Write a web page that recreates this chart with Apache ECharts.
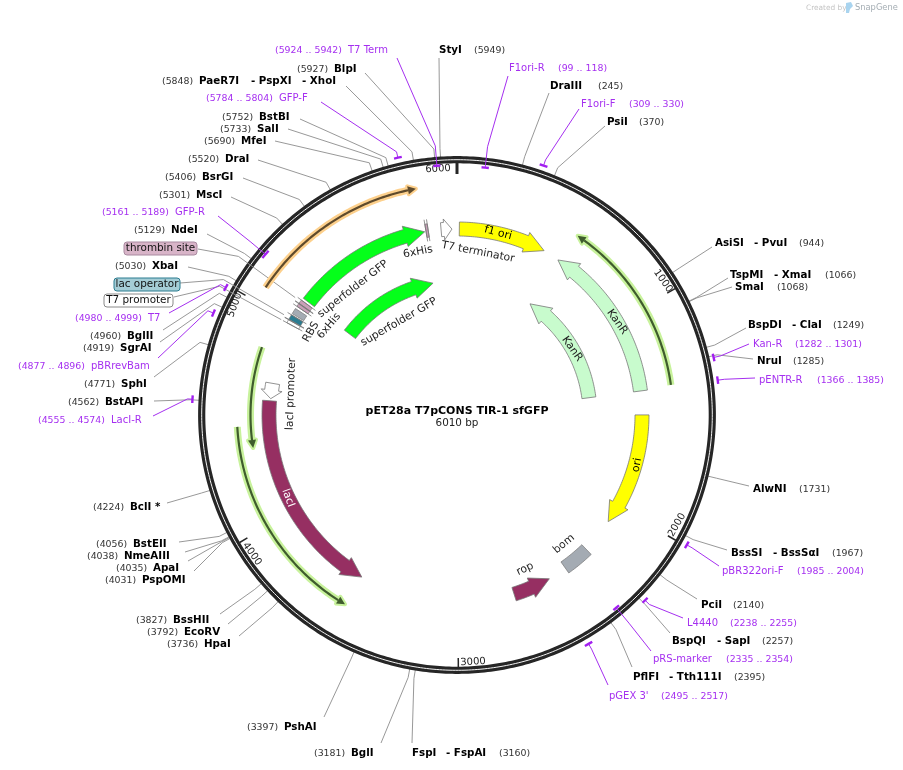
<!DOCTYPE html>
<html>
<head>
<meta charset="utf-8">
<script src="https://cdnjs.cloudflare.com/ajax/libs/echarts/6.0.0/echarts.min.js"></script>
<style>
html, body { margin: 0; padding: 0; background: #fff; }
#main { width: 903px; height: 770px; }
</style>
</head>
<body>
<div id="main"></div>
<script>
var plasmidName = 'pET28a T7pCONS TIR-1 sfGFP';
var plasmidSize = 6010;

// ruler
var tickValues = [1000, 2000, 3000, 4000, 5000];
var tickLabels = ['6000', '1000', '2000', '3000', '4000', '5000'];

// directional features, start -> end in bp
var featNames = ['f1 ori', 'T7 terminator', 'superfolder GFP', 'superfolder GFP', 'KanR', 'KanR', 'ori', 'lacI', 'lacI promoter', 'rop'];
var featStart = [12, 5928, 5129, 5125, 1378, 1378, 1502, 4580, 4670, 2710];
var featEnd = [466, 5984, 5843, 5838, 552, 556, 2090, 3513, 4591, 2514];

// undirected features
var blockNames = ['bom', '6xHis', 'thrombin site', '6xHis', 'RBS', 'lac operator', 'T7 promoter'];
var blockStart = [2272, 5850, 5096, 5078, 5035, 5002, 4983];
var blockEnd = [2416, 5862, 5116, 5094, 5065, 5028, 5000];

// thin translated traces
var traceStart = [5070, 1369, 4456, 4828];
var traceEnd = [5838, 567, 3516, 4354];

// boxed feature labels
var boxNames = ['thrombin site', 'lac operator', 'T7 promoter'];
var boxBp = [5108, 5010, 4983];

// enzyme sites
var siteNames = [
  ['StyI'], ['BlpI'], ['PaeR7I', 'PspXI', 'XhoI'], ['BstBI'], ['SalI'], ['MfeI'], ['DraI'], ['BsrGI'], ['MscI'], ['NdeI'],
  ['XbaI'], ['BglII'], ['SgrAI'], ['SphI'], ['BstAPI'], ['BclI *'], ['BstEII'], ['NmeAIII'], ['ApaI'], ['PspOMI'],
  ['BssHII'], ['EcoRV'], ['HpaI'], ['PshAI'], ['BglI'], ['FspI', 'FspAI'], ['DraIII'], ['PsiI'], ['AsiSI', 'PvuI'],
  ['TspMI', 'XmaI'], ['SmaI'], ['BspDI', 'ClaI'], ['NruI'], ['AlwNI'], ['BssSI', 'BssS\u03b1I'], ['PciI'], ['BspQI', 'SapI'], ['PflFI', 'Tth111I']
];
var siteBp = [5949, 5927, 5848, 5752, 5733, 5690, 5520, 5406, 5301, 5129,
  5030, 4960, 4919, 4771, 4562, 4224, 4056, 4038, 4035, 4031,
  3827, 3792, 3736, 3397, 3181, 3160, 245, 370, 944,
  1066, 1068, 1249, 1285, 1731, 1967, 2140, 2257, 2395];

// primers
var primerNames = ['T7 Term', 'GFP-F', 'GFP-R', 'T7', 'pBRrevBam', 'LacI-R', 'F1ori-R', 'F1ori-F', 'Kan-R', 'pENTR-R', 'pBR322ori-F', 'L4440', 'pRS-marker', "pGEX 3'"];
var primerStart = [5924, 5784, 5161, 4980, 4877, 4555, 99, 309, 1282, 1366, 1985, 2238, 2335, 2495];
var primerEnd = [5942, 5804, 5189, 4999, 4896, 4574, 118, 330, 1301, 1385, 2004, 2255, 2354, 2517];

// ---- layout, kept apart from the values ----
var CX = 457, CY = 415;
var FONT = '"DejaVu Sans", Verdana, sans-serif';
var PURPLE = '#a52ff0';

// [mid radius, head length px, fill]
var featStyle = [
  [186, 20, '#ffff00'], [186, 8, '#ffffff'], [186, 20, '#05ff1a'], [134, 20, '#05ff1a'], [185, 20, '#c8fbcd'],
  [133, 20, '#c8fbcd'], [185, 20, '#ffff00'], [188, 20, '#962f62'], [187, 8.5, '#ffffff'], [188, 20, '#962f62']
];
// fill, has end caps
var blockStyle = [
  ['#a4abb3', 0], ['#c99fb8', 1], ['#c99fb8', 1], ['#c99fb8', 1], ['#a4abb3', 0], ['#2b7c90', 1], ['#ffffff', 1]
];
// radius, halo, core
var traceStyle = [
  [230, '#fdd08c', '#5e4a2c'], [216, '#c8f29c', '#3f5c2d'], [220, '#c8f29c', '#3f5c2d'], [206.5, '#c8f29c', '#3f5c2d']
];
// text, x, y, rotation in degrees clockwise, colour
var featLabels = [
  ['f1 ori', 498, 233, 15, '#000'], ['T7 terminator', 478, 252, 11, '#222'], ['superfolder GFP', 353, 289, -38, '#222'],
  ['superfolder GFP', 399, 322, -30, '#222'], ['KanR', 617, 322, 55, '#222'], ['KanR', 572, 349, 55, '#222'],
  ['ori', 637, 465, -80, '#000'], ['lacI', 288, 498, 70, '#fff'], ['lacI promoter', 291, 394, -88, '#222'],
  ['rop', 525, 569, -25, '#222'], ['bom', 564, 544, -40, '#222'], ['6xHis', 418, 252, -11, '#222'],
  ['6xHis', 329, 326, -50, '#222'], ['RBS', 311, 332, -60, '#222']
];
// x, y, rotation, one per tickLabels entry
var tickLabelAt = [[438, 169, -3], [663, 281, 55], [677, 525, -60], [473, 662, -3], [252, 554, 55], [235, 305, -70]];
// box x, y, w, h, fill, border, then lead start
var boxAt = [
  [124, 242, 73, 13, '#d8b4c8', '#a98aa0', 198, 249],
  [114, 278, 66, 13, '#a5cdd6', '#2b7c90', 180, 283],
  [104, 294, 69, 13, '#ffffff', '#8a8a8a', 174, 297]
];
// y, x of (bp), x of each name, lead end x, y
var siteAt = [
  [50, 474, [439], 439, 58], [69, 297, [334], 365, 73], [81, 162, [199, 251, 302], 346, 86], [117, 222, [259], 300, 119],
  [129, 220, [257], 288, 129], [141, 204, [241], 275, 141], [159, 188, [225], 258, 160], [177, 165, [202], 243, 178],
  [195, 159, [196], 231, 197], [230, 134, [171], 207, 234], [266.5, 115, [152], 188, 267], [336.5, 90, [127], 163, 330],
  [348.5, 83, [120], 160, 342], [384.5, 84, [121], 154, 377], [402.5, 68, [105], 154, 401], [507, 93, [130], 167, 503],
  [544, 96, [133], 179, 542], [556, 87, [124], 185, 552], [568, 116, [153], 188, 561], [580, 105, [142], 194, 571],
  [620.5, 136, [173], 220, 614], [632.5, 147, [184], 228, 624], [644.5, 167, [204], 239, 636], [727.5, 247, [284], 324, 717],
  [753.5, 314, [351], 381, 743], [753.5, 499, [412, 446], 412, 743], [86.5, 598, [550], 549, 93], [122.5, 639, [607], 605, 126],
  [243.5, 799, [715, 754], 712, 247], [275.5, 825, [730, 774], 728, 278], [287.5, 777, [735], 732, 287],
  [325.5, 833, [748, 792], 746, 328], [361.5, 793, [757], 753, 359], [489.5, 799, [753], 749, 486],
  [553.5, 832, [731, 773], 727, 550], [605.5, 733, [701], 697, 599], [641.5, 762, [672, 717], 670, 633], [677.5, 734, [633, 669], 632, 667]
];
// y, x of range, x of name, lead end x, y, mark radius
var primerAt = [
  [50.5, 275, 348, 397, 58, 250], [98.5, 206, 279, 321, 102, 264], [212.5, 102, 175, 218, 216, 250], [318.5, 75, 148, 169, 313, 264],
  [366.5, 18, 91, 158, 358, 264], [420.5, 38, 111, 153, 416, 265], [68.5, 558, 509, 508, 76, 249], [104, 629, 581, 579, 109, 264],
  [344, 795, 753, 749, 344, 263], [380, 817, 759, 755, 378, 263], [571.5, 797, 722, 719, 566, 264], [623.5, 730, 687, 683, 618, 264],
  [659.5, 726, 653, 651, 651, 250], [696, 661, 609, 608, 685, 264]
];

function arc(api, r, a, b) {
  var pts = [], n = Math.max(2, Math.ceil(Math.abs(b - a) / 12));
  for (var i = 0; i <= n; i++) {
    var p = api.coord([r, a + (b - a) * i / n]);
    pts.push([p[0], p[1]]);
  }
  return pts;
}

function xy(api, r, bp) {
  var p = api.coord([r, bp]);
  return [p[0], p[1]];
}

function bpPerPx(r) {
  return plasmidSize / (2 * Math.PI * r);
}

function label(text, x, y, size, fill, weight, rot, align) {
  return {
    type: 'text', x: x, y: y, rotation: -(rot || 0) * Math.PI / 180,
    style: {
      text: text, fill: fill, align: align || 'left', verticalAlign: 'middle',
      font: (weight || 'normal') + ' ' + size + 'px ' + FONT
    }
  };
}

function polar(seriesData, render, z) {
  return { type: 'custom', coordinateSystem: 'polar', data: seriesData, renderItem: render, silent: true, animation: false, z: z, clip: false };
}

function indexData(list, bps) {
  return list.map(function (v, i) { return [200, bps ? bps[i] : 0, i]; });
}

function renderRing(params, api) {
  var ring = arc(api, 255.3, 0, plasmidSize);
  var kids = [
    { type: 'polyline', shape: { points: ring }, style: { stroke: '#262626', lineWidth: 7.2, fill: null } },
    { type: 'polyline', shape: { points: ring }, style: { stroke: '#f4f4f4', lineWidth: 1, fill: null } },
    { type: 'line', shape: { x1: xy(api, 252, 0)[0], y1: xy(api, 252, 0)[1], x2: xy(api, 241, 0)[0], y2: xy(api, 241, 0)[1] }, style: { stroke: '#262626', lineWidth: 3 } }
  ];
  tickValues.forEach(function (t) {
    var a = xy(api, 252, t), b = xy(api, 243, t);
    kids.push({ type: 'line', shape: { x1: a[0], y1: a[1], x2: b[0], y2: b[1] }, style: { stroke: '#262626', lineWidth: 1.5 } });
  });
  tickLabels.forEach(function (t, i) {
    var p = tickLabelAt[i];
    kids.push(label(t, p[0], p[1], 10, '#222', 'normal', p[2], 'center'));
  });
  return { type: 'group', children: kids };
}

function renderTrace(params, api) {
  var i = api.value(2), st = traceStyle[i], s = traceStart[i], e = traceEnd[i];
  var dir = e > s ? 1 : -1, r = st[0], hb = 8 * bpPerPx(r), base = e - dir * hb;
  var line = arc(api, r, s, base);
  var head = [xy(api, r + 4, base), xy(api, r, e), xy(api, r - 4, base)];
  return {
    type: 'group', children: [
      { type: 'polyline', shape: { points: line }, style: { stroke: st[1], lineWidth: 7, fill: null } },
      { type: 'polygon', shape: { points: head }, style: { fill: st[1], stroke: st[1], lineWidth: 4, lineJoin: 'round' } },
      { type: 'polyline', shape: { points: line }, style: { stroke: st[2], lineWidth: 2.2, fill: null } },
      { type: 'polygon', shape: { points: head }, style: { fill: st[2] } }
    ]
  };
}

function renderFeature(params, api) {
  var i = api.value(2), st = featStyle[i], s = featStart[i], e = featEnd[i], r = st[0];
  var dir = e > s ? 1 : -1, base = e - dir * st[1] * bpPerPx(r);
  var pts = arc(api, r + 7, s, base);
  pts.push(xy(api, r + 10.5, base), xy(api, r, e), xy(api, r - 10.5, base));
  pts = pts.concat(arc(api, r - 7, base, s));
  return { type: 'polygon', shape: { points: pts }, style: { fill: st[2], stroke: '#777', lineWidth: 0.8 } };
}

function renderBlock(params, api) {
  var i = api.value(2), st = blockStyle[i], s = blockStart[i], e = blockEnd[i];
  var pts = arc(api, 193.5, s, e).concat(arc(api, 180, e, s));
  var kids = [{ type: 'polygon', shape: { points: pts }, style: { fill: st[0], stroke: '#777', lineWidth: 0.7 } }];
  if (st[1]) {
    [s, e].forEach(function (b) {
      var p = xy(api, 176, b), q = xy(api, 198, b);
      kids.push({ type: 'line', shape: { x1: p[0], y1: p[1], x2: q[0], y2: q[1] }, style: { stroke: '#777', lineWidth: 0.8 } });
    });
  }
  return { type: 'group', children: kids };
}

function renderSite(params, api) {
  var i = api.value(2), at = siteAt[i], bp = siteBp[i];
  var pts = [xy(api, 258, bp), xy(api, 267, bp), [at[3], at[4]]];
  var kids = [{ type: 'polyline', shape: { points: pts }, style: { stroke: '#8c8c8c', lineWidth: 0.9, fill: null } }];
  kids.push(label('(' + bp + ')', at[1], at[0] + 0.5, 9.4, '#333'));
  siteNames[i].forEach(function (n, k) {
    kids.push(label((k ? '- ' : '') + n, at[2][k], at[0], 10.3, '#000', 'bold'));
  });
  return { type: 'group', children: kids };
}

function renderPrimer(params, api) {
  var i = api.value(2), at = primerAt[i], s = primerStart[i], e = primerEnd[i], mid = (s + e) / 2;
  var pts = [xy(api, at[5], mid), xy(api, 270, mid), [at[3], at[4]]];
  return {
    type: 'group', children: [
      { type: 'polyline', shape: { points: pts }, style: { stroke: PURPLE, lineWidth: 1, fill: null } },
      { type: 'polyline', shape: { points: arc(api, at[5], s, e) }, style: { stroke: '#a21ff0', lineWidth: 2.4, lineCap: 'square', fill: null } },
      label('(' + s + ' .. ' + e + ')', at[1], at[0] + 0.5, 9.4, PURPLE),
      label(primerNames[i], at[2], at[0], 10, PURPLE)
    ]
  };
}

function renderBox(params, api) {
  var i = api.value(2), at = boxAt[i], bp = boxBp[i];
  var pts = [[at[6], at[7]], xy(api, 270, bp), xy(api, 200, bp)];
  return {
    type: 'group', children: [
      { type: 'polyline', shape: { points: pts }, style: { stroke: '#8c8c8c', lineWidth: 0.9, fill: null } },
      { type: 'rect', shape: { x: at[0], y: at[1], width: at[2], height: at[3], r: 3 }, style: { fill: at[4], stroke: at[5], lineWidth: 1 } },
      label(boxNames[i], at[0] + at[2] / 2, at[1] + at[3] / 2, 10.4, '#111', 'normal', 0, 'center')
    ]
  };
}

function renderFeatLabel(params, api) {
  var l = featLabels[api.value(2)];
  return label(l[0], l[1], l[2], 10.8, l[4], 'normal', l[3], 'center');
}

var chart = echarts.init(document.getElementById('main'));

chart.setOption({
  animation: false,
  backgroundColor: '#fff',
  polar: { center: [CX, CY], radius: 300 },
  angleAxis: { type: 'value', min: 0, max: plasmidSize, startAngle: 90, clockwise: true, show: false },
  radiusAxis: { type: 'value', min: 0, max: 300, show: false },
  graphic: [
    { type: 'text', x: 806, y: 8, style: { text: 'Created by', fill: '#c4c4c4', font: '7.4px ' + FONT, verticalAlign: 'middle' } },
    { type: 'polygon', shape: { points: [[846, 3], [851, 2], [853, 6], [850, 9], [849, 13], [846, 13]] }, style: { fill: '#a9d4ef' } },
    { type: 'text', x: 855, y: 8, style: { text: 'SnapGene', fill: '#a4adb3', font: '8.3px ' + FONT, verticalAlign: 'middle' } },
    { type: 'text', x: CX, y: 411, style: { text: plasmidName, fill: '#000', font: 'bold 11px ' + FONT, align: 'center', verticalAlign: 'middle' } },
    { type: 'text', x: CX, y: 423.5, style: { text: plasmidSize + ' bp', fill: '#222', font: '10.4px ' + FONT, align: 'center', verticalAlign: 'middle' } }
  ],
  series: [
    polar([[200, 0, 0]], renderRing, 3),
    polar(indexData(siteNames, siteBp), renderSite, 2),
    polar(indexData(boxNames, boxBp), renderBox, 4),
    polar(indexData(traceStart, traceStart), renderTrace, 5),
    polar(indexData(featNames, featStart), renderFeature, 6),
    polar(indexData(blockNames, blockStart), renderBlock, 6),
    polar(indexData(primerNames, primerStart), renderPrimer, 7),
    polar(indexData(featLabels), renderFeatLabel, 8)
  ]
});
</script>
</body>
</html>
